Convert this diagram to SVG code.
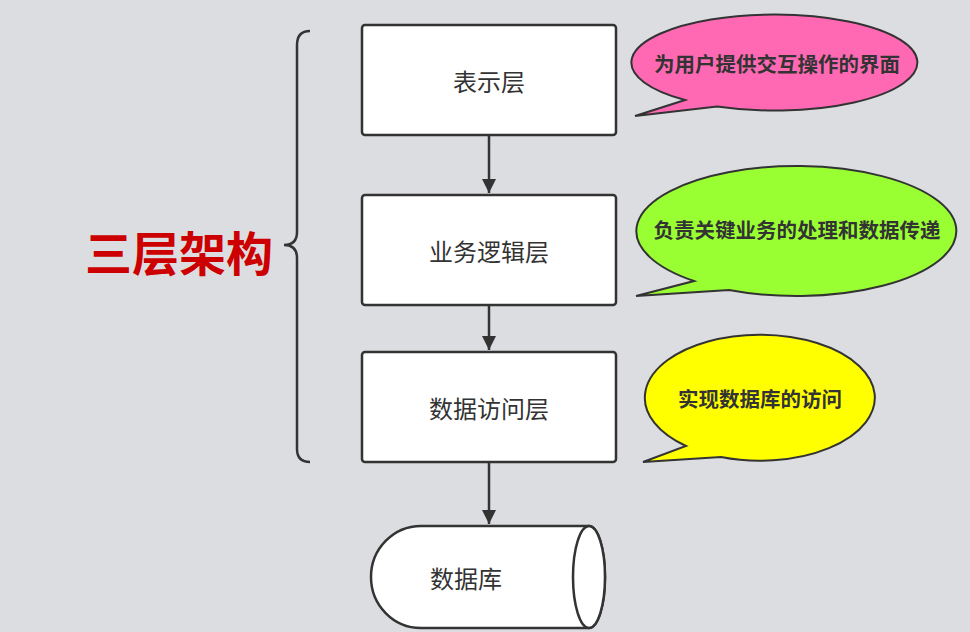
<svg xmlns="http://www.w3.org/2000/svg" width="970" height="632" viewBox="0 0 970 632">
<style>
.box{fill:#fff;stroke:#333;stroke-width:2.5}
.t{font-family:"Noto Sans CJK SC",sans-serif;font-size:24px;fill:#333;text-anchor:middle;dominant-baseline:central}
.c{font-family:"Noto Sans CJK SC",sans-serif;font-size:20.5px;font-weight:bold;fill:#333;text-anchor:middle;dominant-baseline:central}
.ln{stroke:#333;stroke-width:2.5;fill:none}
.cl{stroke:#333;stroke-width:2}
</style>
<defs>
<marker id="ah" markerWidth="14" markerHeight="18" refX="14" refY="9" orient="auto" markerUnits="userSpaceOnUse"><path d="M0,2L14,9L0,16z" fill="#333"/></marker></defs>
<rect width="970" height="632" fill="#dcdde1"/>
<g id="brace"><path class="ln" d="M310,31 Q297,31 297,45 L297,232 Q297,245 284,245 Q297,245 297,258 L297,449 Q297,462 310,462"/></g>
<g id="title"><text x="179" y="250" font-family="Noto Sans CJK SC,sans-serif" font-size="47" font-weight="bold" fill="#cc0000" text-anchor="middle" dominant-baseline="central">三层架构</text></g>
<g id="n1"><rect class="box" x="362" y="25" width="254" height="110" rx="3"/><text class="t" x="489" y="80">表示层</text></g>
<g id="n2"><rect class="box" x="362" y="195" width="254" height="110" rx="3"/><text class="t" x="489" y="250">业务逻辑层</text></g>
<g id="n3"><rect class="box" x="362" y="352" width="254" height="110" rx="3"/><text class="t" x="489" y="407">数据访问层</text></g>
<g id="db"><path class="box" d="M421,526 L589,526 A16,51 0 0 1 589,628 L421,628 A50,51 0 0 1 421,526 Z"/><ellipse class="box" cx="589" cy="577" rx="16" ry="51"/><text class="t" x="466" y="577">数据库</text></g>
<g id="connectors">
<line class="ln" x1="489" y1="136" x2="489" y2="193" marker-end="url(#ah)"/>
<line class="ln" x1="489" y1="306" x2="489" y2="350" marker-end="url(#ah)"/>
<line class="ln" x1="489" y1="463" x2="489" y2="524" marker-end="url(#ah)"/>
</g>
<g id="c1"><path class="cl" d="M685,100 A143,48 0 1 1 717,106.5 L635,116 Z" fill="#ff69b4"/><text class="c" x="777" y="63">为用户提供交互操作的界面</text></g>
<g id="c2"><path class="cl" d="M694,281 A160,65 0 1 1 729,290 L636,296 Z" fill="#99ff33"/><text class="c" x="797" y="229">负责关键业务的处理和数据传递</text></g>
<g id="c3"><path class="cl" d="M686,446 A115,63 0 1 1 721,457 L643,462 Z" fill="#ffff00"/><text class="c" x="760" y="398">实现数据库的访问</text></g>
</svg>
